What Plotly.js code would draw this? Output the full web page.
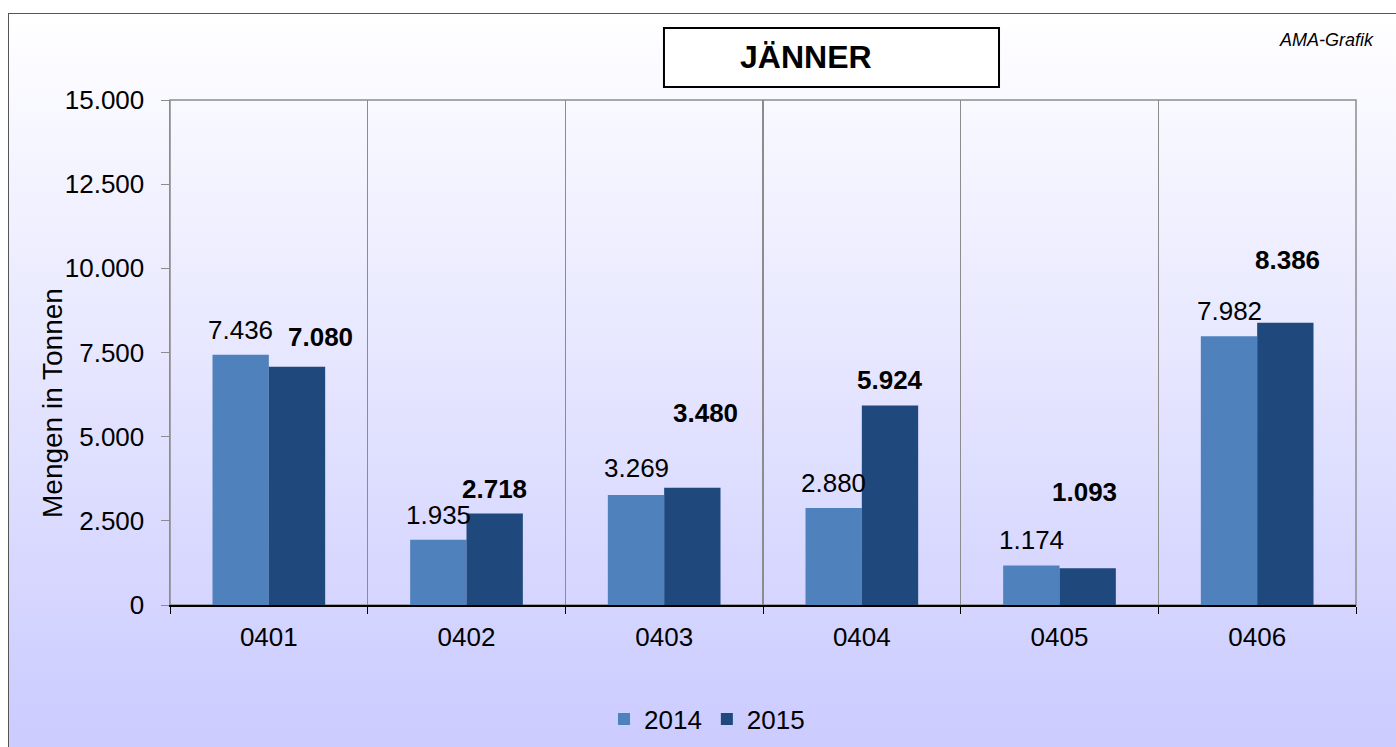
<!DOCTYPE html>
<html>
<head>
<meta charset="utf-8">
<script src="https://cdn.plot.ly/plotly-3.0.1.min.js"></script>
<style>
  html, body { margin: 0; padding: 0; background: #ffffff; width: 1396px; height: 747px; overflow: hidden; }
  #frame { position: absolute; left: 8px; top: 13px; width: 1400px; height: 745px;
           border: 1px solid #555; box-sizing: border-box;
           background: linear-gradient(to bottom, #ffffff 0%, #ccccff 96%); }
  #chart { position: absolute; left: 0; top: 0; width: 1396px; height: 747px; }
</style>
</head>
<body>
<div id="frame"></div>
<div id="chart"></div>
<script>
// ---- data ----
const categories = ['0401', '0402', '0403', '0404', '0405', '0406'];
const values2014 = [7436, 1935, 3269, 2880, 1174, 7982];
const values2015 = [7080, 2718, 3480, 5924, 1093, 8386];
const seriesNames = ['2014', '2015'];
const yTickValues = [0, 2500, 5000, 7500, 10000, 12500, 15000];

// ---- style / label placement (pixels) ----
const barGap = 0.43;
const labelLift2014 = [25, 25, 27, 25, 25, 25];
const labelLift2015 = [30, 24, 75, 26, 76, 63];
const labelNudgeX2015 = [23, 0, 13, 0, -3, 2];

const col2014 = '#4F81BD';
const col2015 = '#1F497D';
const font = 'Arial, "Liberation Sans", sans-serif';

const traces = [
  { type: 'bar', name: seriesNames[0], x: categories, y: values2014,
    marker: { color: col2014 }, hoverinfo: 'skip' },
  { type: 'bar', name: seriesNames[1], x: categories, y: values2015,
    marker: { color: col2015 }, hoverinfo: 'skip' }
];

const fmt = v => v.toLocaleString('de-DE');
const barOffset = (1 - barGap) / 4;

const annotations = [];
categories.forEach((c, i) => {
  annotations.push({ x: i - barOffset, y: values2014[i], xref: 'x', yref: 'y',
    text: fmt(values2014[i]), showarrow: false, xanchor: 'center', yanchor: 'middle',
    yshift: labelLift2014[i],
    font: { family: font, size: 26, color: '#000' } });
  annotations.push({ x: i + barOffset, y: values2015[i], xref: 'x', yref: 'y',
    text: '<b>' + fmt(values2015[i]) + '</b>', showarrow: false, xanchor: 'center', yanchor: 'middle',
    yshift: labelLift2015[i], xshift: labelNudgeX2015[i],
    font: { family: font, size: 26, color: '#000' } });
});
annotations.push({ xref: 'paper', yref: 'paper', x: -0.0995, y: 0.40, text: 'Mengen in Tonnen',
  xanchor: 'center', yanchor: 'middle',
  textangle: -90, showarrow: false, font: { family: font, size: 28, color: '#000' } });
annotations.push({ xref: 'paper', yref: 'paper', x: 1.0169, y: 1.119, xanchor: 'right', yanchor: 'middle',
  text: '<i>AMA-Grafik</i>', showarrow: false, font: { family: font, size: 18, color: '#000' } });
annotations.push({ xref: 'paper', yref: 'paper', x: 0.5363, y: 1.085, xanchor: 'center', yanchor: 'middle',
  text: '<b>JÄNNER</b>', showarrow: false, font: { family: font, size: 32, color: '#000' } });

const layout = {
  width: 1396, height: 747,
  margin: { l: 170, r: 40, t: 100, b: 142, autoexpand: false },
  paper_bgcolor: 'rgba(0,0,0,0)',
  plot_bgcolor: 'rgba(0,0,0,0)',
  separators: ',.',
  barmode: 'group',
  bargap: barGap,
  bargroupgap: 0,
  font: { family: font, size: 26, color: '#000' },
  xaxis: {
    type: 'category', tickson: 'boundaries', ticks: 'outside', ticklen: 7, tickcolor: '#000',
    showline: true, linecolor: '#000', linewidth: 1.5,
    showgrid: true, gridcolor: '#8c8c8c', gridwidth: 1.5,
    ticklabelstandoff: 8,
    tickfont: { family: font, size: 26 }, fixedrange: true
  },
  yaxis: {
    range: [0, 15000], tickvals: yTickValues, tickformat: ',d',
    ticks: 'outside', ticklen: 8, tickcolor: '#8c8c8c',
    showline: true, linecolor: '#8c8c8c', linewidth: 1.5,
    showgrid: false, zeroline: false,
    ticklabelstandoff: 11,
    tickfont: { family: font, size: 26 }, fixedrange: true
  },
  showlegend: true,
  legend: { orientation: 'h', x: 0.4528, xanchor: 'center', y: -0.226, yanchor: 'middle',
    font: { family: font, size: 26 }, bgcolor: 'rgba(0,0,0,0)', traceorder: 'normal',
    itemwidth: 30 },
  shapes: [
    { type: 'rect', xref: 'paper', yref: 'paper', x0: 0, x1: 1, y0: 0, y1: 1,
      line: { color: '#8c8c8c', width: 1.5 }, layer: 'below' },
    { type: 'rect', xref: 'paper', yref: 'paper', x0: 0.4165, x1: 0.699, y0: 1.0257, y1: 1.1426,
      line: { color: '#000', width: 2 }, fillcolor: '#ffffff', layer: 'below' }
  ],
  annotations: annotations
};

Plotly.newPlot('chart', traces, layout, { staticPlot: true, displayModeBar: false });
</script>
</body>
</html>
